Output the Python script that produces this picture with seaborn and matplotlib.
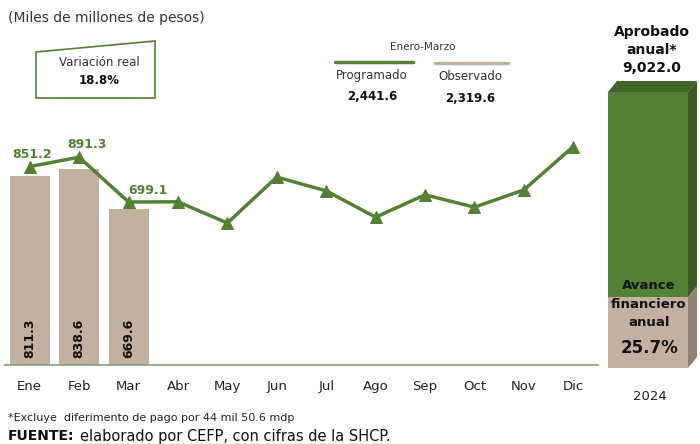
import numpy as np
import pandas as pd
import matplotlib
matplotlib.use("Agg")
import matplotlib.pyplot as plt
import seaborn as sns
from matplotlib.patches import Polygon

# data (miles de millones de pesos)
months = ["Ene", "Feb", "Mar", "Abr", "May", "Jun", "Jul", "Ago", "Sep", "Oct", "Nov", "Dic"]
programado = [851.2, 891.3, 699.1, 700.0, 609.0, 806.0, 747.0, 634.0, 730.0, 677.0, 751.0, 937.0]
obs_months = ["Ene", "Feb", "Mar"]
observado = [811.3, 838.6, 669.6]
anual_aprobado = 9022.0
anual_observado = 2319.6
avance_pct = 25.7
variacion_real = 18.8

GREEN = "#548235"
GREEN_DARK = "#3e6628"
TAN = "#c4b09f"
TAN_DARK = "#8f8175"

sns.set_style("white")
plt.rcParams["font.family"] = ["DejaVu Sans"]

W, H = 700, 444
fig = plt.figure(figsize=(7, 4.44), dpi=100)


def fbox(x0, y0, x1, y1):
    # pixel box (top-left origin) -> figure fraction rect
    return [x0 / W, 1 - y1 / H, (x1 - x0) / W, (y1 - y0) / H]


def px(x, y):
    return x / W, 1 - y / H


# ---- monthly chart ----
ax = fig.add_axes(fbox(5, 130, 598, 365))
df_obs = pd.DataFrame({"mes": obs_months, "valor": observado})
sns.barplot(data=df_obs, x="mes", y="valor", order=months, color=TAN,
            saturation=1, width=0.81, linewidth=0, ax=ax)
sns.lineplot(x=np.arange(len(months)), y=programado, color=GREEN, lw=2.5,
             marker="^", markersize=9, markeredgecolor=GREEN, ax=ax)
ax.set_xlim(-0.5, 11.5)
ax.set_ylim(0, 1008)
ax.set_xlabel("")
ax.set_ylabel("")
ax.set_yticks([])
ax.tick_params(axis="x", length=0, labelsize=9.5, pad=11, colors="#222222")
for s in ["top", "right", "left"]:
    ax.spines[s].set_visible(False)
ax.spines["bottom"].set_color("#8aa07a")
ax.spines["bottom"].set_linewidth(1.2)

for i, v in enumerate(observado):
    ax.text(i, 30, f"{v:,.1f}", rotation=90, ha="center", va="bottom",
            fontsize=9, fontweight="bold", color="#111111")

lab_off = [(0.05, 22), (0.15, 25), (0.4, 22)]
for i in range(3):
    dx, dy = lab_off[i]
    ax.text(i + dx, programado[i] + dy, f"{programado[i]:,.1f}", ha="center",
            va="bottom", fontsize=9, fontweight="bold", color=GREEN)

# ---- annual bar ----
ax2 = fig.add_axes(fbox(599, 20, 697, 368))
ymax2 = anual_aprobado * (348 / 276)
sns.barplot(x=["2024"], y=[anual_aprobado], color=GREEN, saturation=1,
            width=0.816, linewidth=0, ax=ax2)
sns.barplot(x=["2024"], y=[anual_observado], color=TAN, saturation=1,
            width=0.816, linewidth=0, ax=ax2)
ax2.set_xlim(-0.5, 0.5)
ax2.set_ylim(0, ymax2)
ax2.axis("off")

# 3d faces from bar geometry
dx = 9 / 98
dy = 11 * ymax2 / 348
x0, x1 = -0.408, 0.408
top = Polygon([[x0, anual_aprobado], [x1, anual_aprobado],
               [x1 + dx, anual_aprobado + dy], [x0 + dx, anual_aprobado + dy]],
              closed=True, color=GREEN_DARK, lw=0)
side_g = Polygon([[x1, anual_observado], [x1, anual_aprobado],
                  [x1 + dx, anual_aprobado + dy], [x1 + dx, anual_observado + dy]],
                 closed=True, color="#3a5a26", lw=0)
side_t = Polygon([[x1, 0], [x1, anual_observado],
                  [x1 + dx, anual_observado + dy], [x1 + dx, dy]],
                 closed=True, color=TAN_DARK, lw=0)
for p in (top, side_g, side_t):
    p.set_clip_on(False)
    ax2.add_patch(p)

fig.text(*px(652, 50), f"Aprobado\nanual*\n{anual_aprobado:,.1f}",
         ha="center", va="center", fontsize=10, fontweight="bold",
         linespacing=1.4, color="#111111")
fig.text(*px(649, 304), "Avance\nfinanciero\nanual",
         ha="center", va="center", fontsize=9.5, fontweight="bold",
         linespacing=1.55, color="#111111")
fig.text(*px(649, 348), f"{avance_pct}%", ha="center", va="center",
         fontsize=12, fontweight="bold", color="#111111")
fig.text(*px(650, 396), "2024", ha="center", va="center",
         fontsize=9.5, color="#222222")

# ---- header texts ----
fig.text(*px(8, 18), "(Miles de millones de pesos)", ha="left",
         va="center", fontsize=10, color="#333333")

box = Polygon([px(36, 52), px(155, 41), px(155, 98), px(36, 98)],
              closed=True, fill=False, edgecolor=GREEN, lw=1.2,
              transform=fig.transFigure)
fig.add_artist(box)
fig.text(*px(99, 63), "Variación real", ha="center", va="center",
         fontsize=8.5, color="#333333")
fig.text(*px(99, 80), f"{variacion_real}%", ha="center", va="center",
         fontsize=8.5, fontweight="bold", color="#111111")

fig.text(*px(423, 47), "Enero-Marzo", ha="center", va="center",
         fontsize=7.5, color="#333333")
fig.add_artist(plt.Line2D([335 / W, 413 / W], [1 - 62 / H, 1 - 62 / H],
                          color=GREEN, lw=2.5, transform=fig.transFigure))
fig.add_artist(plt.Line2D([435 / W, 508 / W], [1 - 63 / H, 1 - 63 / H],
                          color=TAN, lw=2.5, transform=fig.transFigure))
fig.text(*px(372, 75), "Programado", ha="center", va="center",
         fontsize=8.5, color="#333333")
fig.text(*px(470, 77), "Observado", ha="center", va="center",
         fontsize=8.5, color="#333333")
fig.text(*px(372, 96), f"{sum(programado[:3]):,.1f}", ha="center",
         va="center", fontsize=8.5, fontweight="bold", color="#111111")
fig.text(*px(470, 98), f"{anual_observado:,.1f}", ha="center",
         va="center", fontsize=8.5, fontweight="bold", color="#111111")

# ---- footnotes ----
fig.text(*px(8, 418), "*Excluye  diferimento de pago por 44 mil 50.6 mdp",
         ha="left", va="center", fontsize=8, color="#222222")
fuente = fig.text(*px(8, 436), "FUENTE:", ha="left", va="center",
                  fontsize=10, fontweight="bold", color="#111111")
fig.canvas.draw()
bb = fuente.get_window_extent()
fig.text(*px(bb.x1 + 5, 436), "elaborado por CEFP, con cifras de la SHCP.",
         ha="left", va="center", fontsize=10.5, color="#111111")

fig.savefig("out.png", dpi=100)
